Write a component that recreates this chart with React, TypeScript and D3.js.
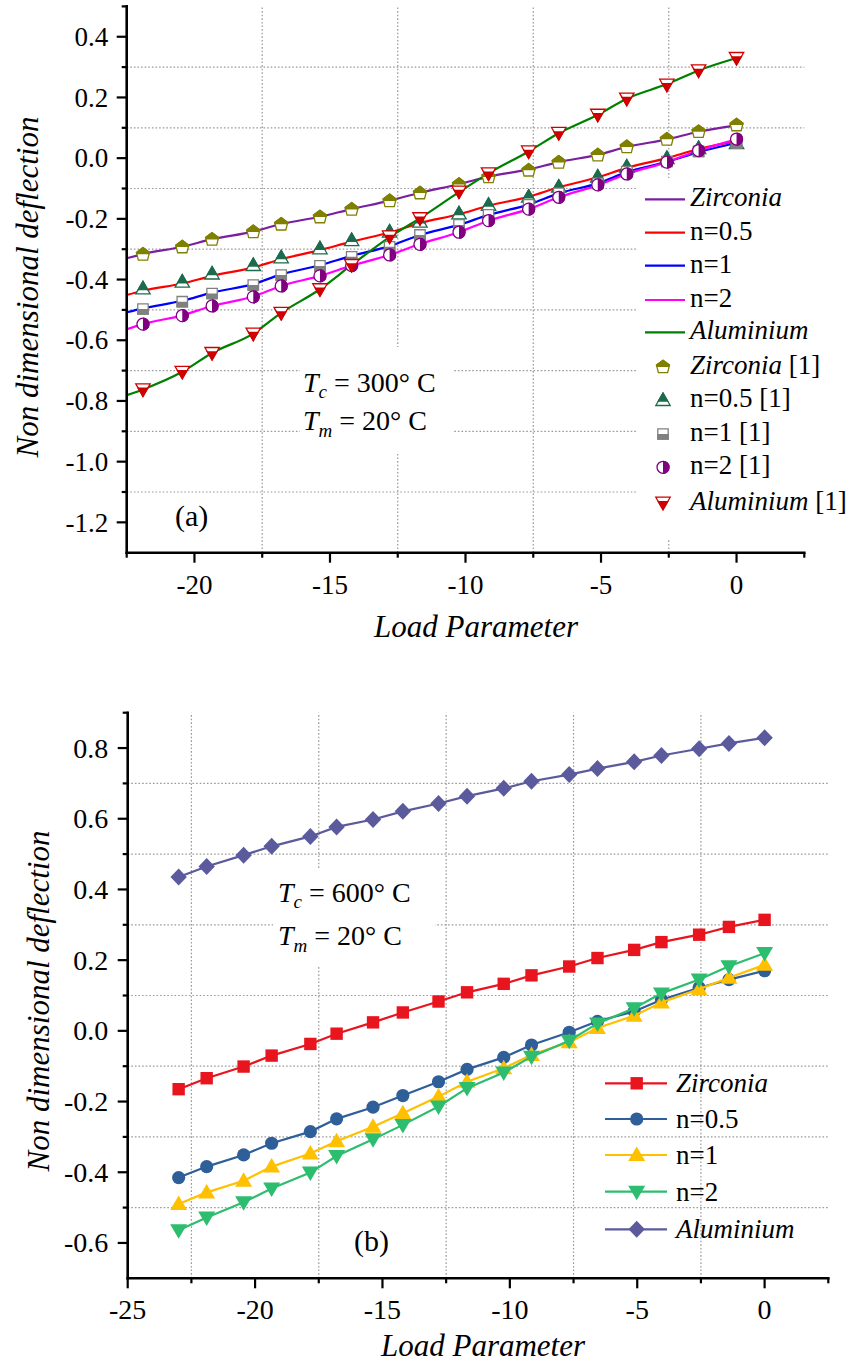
import React from 'react';
import * as d3 from 'd3';

// ---------------- DATA ----------------
// Load parameter positions of the data points
const loadX = [-23.0, -21.9, -20.45, -19.35, -17.83, -16.8, -15.37, -14.2, -12.8, -11.68, -10.24, -9.15, -7.67, -6.56, -5.12, -4.05, -2.57, -1.4, 0];
// Panel (a): computed curves start at the axis edge
const topLineX = [-22.5, -21.9, -20.45, -19.35, -17.83, -16.8, -15.37, -14.2, -12.8, -11.68, -10.24, -9.15, -7.67, -6.56, -5.12, -4.05, -2.57, -1.4, 0];
const topMarkX = [-21.9, -20.45, -19.35, -17.83, -16.8, -15.37, -14.2, -12.8, -11.68, -10.24, -9.15, -7.67, -6.56, -5.12, -4.05, -2.57, -1.4, 0];

// Panel (a) present results (lines)
const zirc300 = [-0.330, -0.316, -0.292, -0.267, -0.242, -0.217, -0.193, -0.168, -0.140, -0.114, -0.086, -0.061, -0.037, -0.013, 0.011, 0.037, 0.062, 0.087, 0.108];
const n05_300 = [-0.451, -0.437, -0.413, -0.388, -0.360, -0.333, -0.303, -0.275, -0.245, -0.214, -0.185, -0.157, -0.127, -0.096, -0.063, -0.032, 0.000, 0.030, 0.056];
const n1_300 = [-0.508, -0.495, -0.470, -0.443, -0.415, -0.383, -0.353, -0.322, -0.290, -0.253, -0.220, -0.187, -0.153, -0.116, -0.083, -0.046, -0.012, 0.020, 0.050];
const n2_300 = [-0.564, -0.547, -0.518, -0.487, -0.456, -0.421, -0.388, -0.354, -0.319, -0.283, -0.244, -0.206, -0.168, -0.129, -0.089, -0.052, -0.013, 0.025, 0.062];
const alu300 = [-0.781, -0.762, -0.704, -0.642, -0.578, -0.510, -0.432, -0.352, -0.260, -0.198, -0.112, -0.050, 0.022, 0.082, 0.143, 0.196, 0.244, 0.289, 0.330];

// Panel (a) reference [1] results (markers)
const zirc300Ref = [-0.316, -0.292, -0.267, -0.242, -0.217, -0.193, -0.168, -0.140, -0.114, -0.086, -0.061, -0.039, -0.013, 0.011, 0.038, 0.063, 0.088, 0.110];
const n05_300Ref = [-0.429, -0.407, -0.380, -0.352, -0.327, -0.297, -0.270, -0.242, -0.209, -0.182, -0.154, -0.127, -0.094, -0.061, -0.028, 0.000, 0.033, 0.050];
const n1_300Ref = [-0.497, -0.473, -0.446, -0.418, -0.385, -0.355, -0.325, -0.292, -0.253, -0.220, -0.187, -0.154, -0.116, -0.083, -0.044, -0.011, 0.022, 0.050];
const n2_300Ref = [-0.547, -0.519, -0.487, -0.457, -0.421, -0.388, -0.354, -0.319, -0.284, -0.244, -0.206, -0.168, -0.129, -0.088, -0.052, -0.013, 0.025, 0.063];
const alu300Ref = [-0.762, -0.704, -0.642, -0.578, -0.510, -0.432, -0.352, -0.258, -0.198, -0.110, -0.050, 0.022, 0.083, 0.143, 0.196, 0.242, 0.289, 0.330];

// Panel (b)
const zirc600 = [-0.165, -0.134, -0.101, -0.070, -0.037, -0.008, 0.024, 0.052, 0.083, 0.109, 0.133, 0.157, 0.182, 0.206, 0.229, 0.251, 0.272, 0.294, 0.314];
const n05_600 = [-0.415, -0.384, -0.351, -0.318, -0.285, -0.249, -0.216, -0.183, -0.144, -0.109, -0.075, -0.040, -0.004, 0.027, 0.055, 0.088, 0.122, 0.145, 0.170];
const n1_600 = [-0.490, -0.457, -0.424, -0.384, -0.347, -0.312, -0.271, -0.233, -0.186, -0.144, -0.106, -0.068, -0.032, 0.008, 0.043, 0.080, 0.118, 0.150, 0.187];
const n2_600 = [-0.564, -0.528, -0.485, -0.446, -0.401, -0.354, -0.307, -0.266, -0.214, -0.162, -0.118, -0.073, -0.028, 0.021, 0.064, 0.106, 0.145, 0.183, 0.220];
const alu600 = [0.435, 0.465, 0.497, 0.522, 0.550, 0.577, 0.598, 0.621, 0.643, 0.664, 0.686, 0.706, 0.725, 0.742, 0.761, 0.779, 0.798, 0.813, 0.829];

// Ticks
const topXMajor = [-20, -15, -10, -5, 0];
const topXMinor = [-22.5, -17.5, -12.5, -7.5, -2.5, 2.5];
const topYMajor = [-1.2, -1.0, -0.8, -0.6, -0.4, -0.2, 0.0, 0.2, 0.4];
const topYMinor = [-1.1, -0.9, -0.7, -0.5, -0.3, -0.1, 0.1, 0.3, 0.5];
const botXMajor = [-25, -20, -15, -10, -5, 0];
const botXMinor = [-22.5, -17.5, -12.5, -7.5, -2.5, 2.5];
const botYMajor = [-0.6, -0.4, -0.2, 0.0, 0.2, 0.4, 0.6, 0.8];
const botYMinor = [-0.5, -0.3, -0.1, 0.1, 0.3, 0.5, 0.7, 0.9];

const lineLabels = ['Zirconia', 'n=0.5', 'n=1', 'n=2', 'Aluminium'];
const italicLabel = [true, false, false, true && false, true];

// ---------------- STYLE ----------------
const FONT = '"Liberation Serif", "Times New Roman", serif';
const topLineColors = ['#7a1fa0', '#ff0000', '#0000ff', '#ff00ff', '#008000'];
const topMarkColors = ['#808000', '#1c6b4c', '#808080', '#800080', '#d00000'];
const botColors = ['#e8141e', '#2e5f99', '#ffc000', '#2dbd6e', '#5a5a9c'];
const GRID = '#9a9a9a';

const topX = d3.scaleLinear().domain([-22.5, 2.5]).range([126.7, 804.3]);
const topY = d3.scaleLinear().domain([-1.3, 0.5]).range([552.7, 6.4]);
const botX = d3.scaleLinear().domain([-25, 2.5]).range([127.7, 828.3]);
const botY = d3.scaleLinear().domain([-0.7, 0.9]).range([1278.3, 712.7]);

type Sc = d3.ScaleLinear<number, number>;

function Axes({ x, y, xMajor, xMinor, yMajor, yMinor, fs, yLabelGap }: { x: Sc; y: Sc; xMajor: number[]; xMinor: number[]; yMajor: number[]; yMinor: number[]; fs: number; yLabelGap: number }) {
  const [x0, x1] = x.range();
  const [yb, yt] = y.range();
  return (
    <g>
      <line x1={x0} x2={x0} y1={yb} y2={yt} stroke="#000" strokeWidth={2.6} strokeLinecap="square" />
      <line x1={x0} x2={x1} y1={yb} y2={yb} stroke="#000" strokeWidth={2.6} strokeLinecap="square" />
      {xMajor.map((v) => (
        <g key={'xm' + v}>
          <line x1={x(v)} x2={x(v)} y1={yb} y2={yb + 10} stroke="#000" strokeWidth={2.2} />
          <text x={x(v)} y={yb + 41} textAnchor="middle" fontSize={fs} fontFamily={FONT}>{String(v)}</text>
        </g>
      ))}
      {xMinor.map((v) => (
        <line key={'xn' + v} x1={x(v)} x2={x(v)} y1={yb} y2={yb + 5} stroke="#000" strokeWidth={2.2} />
      ))}
      {yMajor.map((v) => (
        <g key={'ym' + v}>
          <line x1={x0 - 10} x2={x0} y1={y(v)} y2={y(v)} stroke="#000" strokeWidth={2.2} />
          <text x={x0 - yLabelGap} y={y(v)} dy="0.34em" textAnchor="end" fontSize={fs} fontFamily={FONT}>{v.toFixed(1)}</text>
        </g>
      ))}
      {yMinor.map((v) => (
        <line key={'yn' + v} x1={x0 - 5} x2={x0} y1={y(v)} y2={y(v)} stroke="#000" strokeWidth={2.2} />
      ))}
    </g>
  );
}

function Grid({ x, y, xs, ys }: { x: Sc; y: Sc; xs: number[]; ys: number[] }) {
  const [x0, x1] = x.range();
  const [yb, yt] = y.range();
  return (
    <g stroke={GRID} strokeWidth={1.2} strokeDasharray="1.6 2">
      {xs.map((v) => <line key={'gx' + v} x1={x(v)} x2={x(v)} y1={yb} y2={yt} />)}
      {ys.map((v) => <line key={'gy' + v} x1={x0} x2={x1} y1={y(v)} y2={y(v)} />)}
    </g>
  );
}

// Half-filled reference markers for panel (a)
const refShapes = [
  'M0,-6.5 L6.5,-1.6 L4.6,6 L-4.6,6 L-6.5,-1.6 Z',
  'M0,-7 L7.2,5.5 L-7.2,5.5 Z',
  'M-5.2,-5.2 H5.2 V5.2 H-5.2 Z',
  'M-6,0 A6,6 0 1,0 6,0 A6,6 0 1,0 -6,0 Z',
  'M-7.2,-5.5 L7.2,-5.5 L0,7 Z',
];
const refClips = ['clipTopHalf', 'clipTriUp', 'clipBottomHalf', 'clipRightHalf', 'clipTriDown'];

function RefMarker({ k, cx, cy }: { k: number; cx: number; cy: number }) {
  const c = topMarkColors[k];
  return (
    <g transform={`translate(${cx},${cy})`}>
      <path d={refShapes[k]} fill="#fff" stroke={c} strokeWidth={1.3} />
      <path d={refShapes[k]} fill={c} stroke={c} strokeWidth={1.3} clipPath={`url(#${refClips[k]})`} />
    </g>
  );
}

const botShapes = [
  'M-6.2,-6.2 H6.2 V6.2 H-6.2 Z',
  'M-6.6,0 A6.6,6.6 0 1,0 6.6,0 A6.6,6.6 0 1,0 -6.6,0 Z',
  'M0,-8.5 L8.5,6 L-8.5,6 Z',
  'M-8.5,-6 L8.5,-6 L0,8.5 Z',
  'M0,-8.5 L8.2,0 L0,8.5 L-8.2,0 Z',
];

function BotMarker({ k, cx, cy }: { k: number; cx: number; cy: number }) {
  return <path transform={`translate(${cx},${cy})`} d={botShapes[k]} fill={botColors[k]} />;
}

function Label({ x, y, k, suffix, fs }: { x: number; y: number; k: number; suffix?: string; fs: number }) {
  const it = k === 0 || k === 4;
  return (
    <text x={x} y={y} fontSize={fs} fontFamily={FONT}>
      <tspan fontStyle={it ? 'italic' : 'normal'}>{lineLabels[k]}</tspan>
      {suffix ? <tspan fontStyle="normal">{suffix}</tspan> : null}
    </text>
  );
}

function TempNote({ x, y1, y2, tc }: { x: number; y1: number; y2: number; tc: string }) {
  return (
    <g fontFamily={FONT} fontSize={28}>
      <text x={x} y={y1}>
        <tspan fontStyle="italic">T</tspan>
        <tspan fontStyle="italic" fontSize={19} dy={6}>c</tspan>
        <tspan dy={-6}>{` = ${tc}° C`}</tspan>
      </text>
      <text x={x} y={y2}>
        <tspan fontStyle="italic">T</tspan>
        <tspan fontStyle="italic" fontSize={19} dy={7}>m</tspan>
        <tspan dy={-7}>{' = 20° C'}</tspan>
      </text>
    </g>
  );
}

export default function App() {
  const topLines = [zirc300, n05_300, n1_300, n2_300, alu300];
  const topRefs = [zirc300Ref, n05_300Ref, n1_300Ref, n2_300Ref, alu300Ref];
  const botSeries = [zirc600, n05_600, n1_600, n2_600, alu600];

  const topLineGen = (vals: number[]) =>
    d3.line<number>().x((_, i) => topX(topLineX[i])).y((d) => topY(d)).curve(d3.curveMonotoneX)(vals) || '';
  const botLineGen = (vals: number[]) =>
    d3.line<number>().x((_, i) => botX(loadX[i])).y((d) => botY(d))(vals) || '';

  const topLegRows = [199.3, 232.7, 265.7, 300, 332.3];
  const topRefRows = [366.7, 400, 434, 467.3, 502.7];
  const botLegRows = [1083.3, 1119, 1155, 1191.7, 1229.3];

  return (
    <svg width={850} height={1364} style={{ position: 'absolute', left: 0, top: 0, display: 'block', background: '#fff' }}>
      <defs>
        <clipPath id="clipTopHalf"><rect x={-20} y={-20} width={40} height={20.3} /></clipPath>
        <clipPath id="clipBottomHalf"><rect x={-20} y={0} width={40} height={20} /></clipPath>
        <clipPath id="clipRightHalf"><rect x={0} y={-20} width={20} height={40} /></clipPath>
        <clipPath id="clipTriUp"><rect x={-20} y={-20} width={40} height={21.8} /></clipPath>
        <clipPath id="clipTriDown"><rect x={-20} y={-1.8} width={40} height={22} /></clipPath>
      </defs>
      <rect x={0} y={0} width={850} height={1364} fill="#fff" />

      {/* ---------- Panel (a) ---------- */}
      <Grid x={topX} y={topY} xs={[-17.5, -12.5, -7.5, -2.5]} ys={[-1.1, -0.9, -0.7, -0.5, -0.3, -0.1, 0.1, 0.3]} />
      <rect x={300} y={347} width={153} height={105} fill="#fff" />
      <rect x={638} y={178} width={212} height={362} fill="#fff" />
      {topLines.map((vals, k) => (
        <path key={'tl' + k} d={topLineGen(vals)} fill="none" stroke={topLineColors[k]} strokeWidth={2.2} />
      ))}
      {topRefs.map((vals, k) => (
        <g key={'tr' + k}>
          {vals.map((v, i) => <RefMarker key={i} k={k} cx={topX(topMarkX[i])} cy={topY(v)} />)}
        </g>
      ))}
      <Axes x={topX} y={topY} xMajor={topXMajor} xMinor={topXMinor} yMajor={topYMajor} yMinor={topYMinor} fs={27} yLabelGap={18.5} />
      <text x={476} y={637} textAnchor="middle" fontSize={31} fontStyle="italic" fontFamily={FONT}>Load Parameter</text>
      <text transform="translate(38,287) rotate(-90)" textAnchor="middle" fontSize={31} fontStyle="italic" fontFamily={FONT}>Non dimensional deflection</text>
      <TempNote x={303} y1={391.5} y2={430} tc="300" />
      <text x={175} y={526} fontSize={30} fontFamily={FONT}>(a)</text>
      {lineLabels.map((_, k) => (
        <g key={'tleg' + k}>
          <line x1={645} x2={685} y1={topLegRows[k]} y2={topLegRows[k]} stroke={topLineColors[k]} strokeWidth={2.2} />
          <Label x={690} y={topLegRows[k] + 7} k={k} fs={27} />
        </g>
      ))}
      {lineLabels.map((_, k) => (
        <g key={'tleg2' + k}>
          <RefMarker k={k} cx={663} cy={topRefRows[k]} />
          <Label x={690} y={topRefRows[k] + 7} k={k} suffix=" [1]" fs={27} />
        </g>
      ))}

      {/* ---------- Panel (b) ---------- */}
      <Grid x={botX} y={botY} xs={[-22.5, -17.5, -12.5, -7.5, -2.5]} ys={[-0.5, -0.3, -0.1, 0.1, 0.3, 0.5, 0.7]} />
      <rect x={273} y={868} width={162} height={99} fill="#fff" />
      {botSeries.map((vals, k) => (
        <g key={'bs' + k}>
          <path d={botLineGen(vals)} fill="none" stroke={botColors[k]} strokeWidth={2.2} />
          {vals.map((v, i) => <BotMarker key={i} k={k} cx={botX(loadX[i])} cy={botY(v)} />)}
        </g>
      ))}
      <Axes x={botX} y={botY} xMajor={botXMajor} xMinor={botXMinor} yMajor={botYMajor} yMinor={botYMinor} fs={28} yLabelGap={19.4} />
      <text x={483} y={1356} textAnchor="middle" fontSize={31} fontStyle="italic" fontFamily={FONT}>Load Parameter</text>
      <text transform="translate(49,1001) rotate(-90)" textAnchor="middle" fontSize={31} fontStyle="italic" fontFamily={FONT}>Non dimensional deflection</text>
      <TempNote x={278} y1={901.5} y2={945} tc="600" />
      <text x={354} y={1251} fontSize={30} fontFamily={FONT}>(b)</text>
      {lineLabels.map((_, k) => (
        <g key={'bleg' + k}>
          <line x1={605} x2={667} y1={botLegRows[k]} y2={botLegRows[k]} stroke={botColors[k]} strokeWidth={2.2} />
          <BotMarker k={k} cx={636.7} cy={botLegRows[k]} />
          <Label x={676} y={botLegRows[k] + 9} k={k} fs={27} />
        </g>
      ))}
    </svg>
  );
}
